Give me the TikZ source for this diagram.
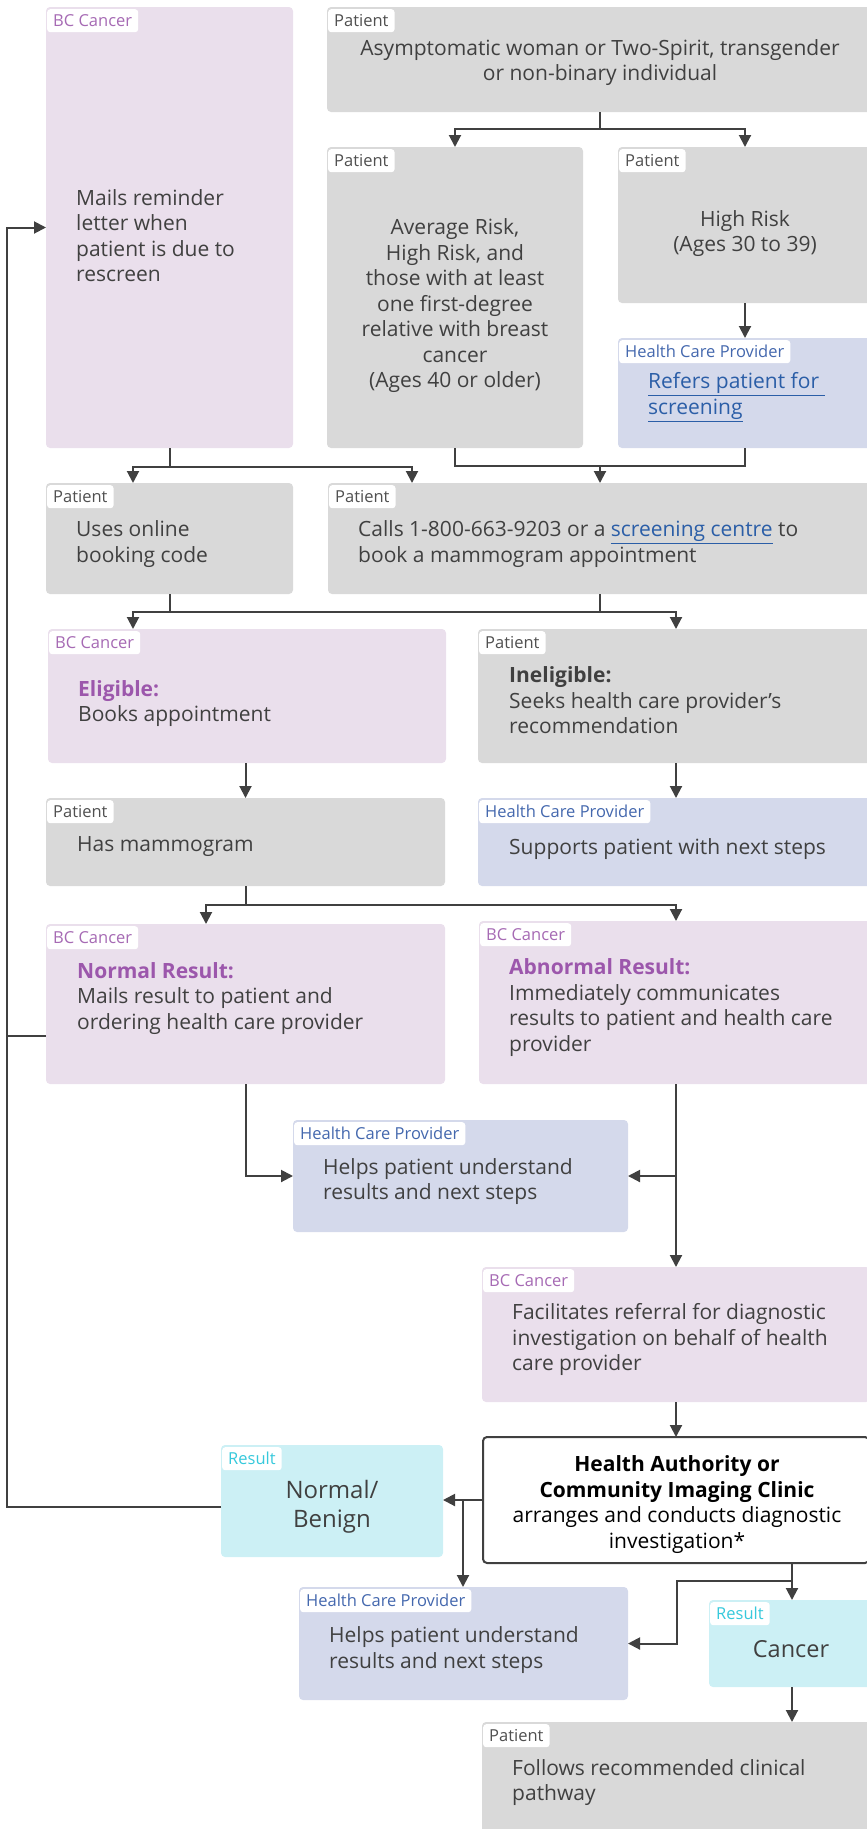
\documentclass[tikz,border=0pt]{standalone}
\usepackage{fontspec}
\setmainfont{Open Sans}
\usetikzlibrary{arrows.meta,calc,fit}
\definecolor{patgray}{HTML}{D9D9D9}
\definecolor{bcpink}{HTML}{EADFEC}
\definecolor{hcpblue}{HTML}{D4D9EB}
\definecolor{rescyan}{HTML}{CCF0F5}
\definecolor{txtc}{HTML}{404040}
\definecolor{tagpurp}{HTML}{A66AB4}
\definecolor{headpurp}{HTML}{9C57AC}
\definecolor{tagblue}{HTML}{4468AE}
\definecolor{tagcyan}{HTML}{36C9DC}
\definecolor{tagpat}{HTML}{505050}
\definecolor{linkc}{HTML}{2B5EA7}
\definecolor{linec}{HTML}{404040}
\begin{document}
\begin{tikzpicture}[x=1pt,y=-1pt,
  box/.style={inner sep=0pt,outer sep=0pt,rounded corners=4pt,draw=none},
  pat/.style={box,fill=patgray},
  bcc/.style={box,fill=bcpink},
  hcp/.style={box,fill=hcpblue},
  res/.style={box,fill=rescyan},
  tag/.style={anchor=north west,fill=white,rounded corners=3pt,inner xsep=6pt,inner ysep=0pt,
    minimum height=23pt,font=\fontsize{16.5}{16.5}\selectfont},
  tbc/.style={tag,text=tagpurp},
  tpat/.style={tag,text=tagpat},
  thcp/.style={tag,text=tagblue},
  tres/.style={tag,text=tagcyan},
  txt/.style={inner sep=0pt,text=txtc,font=\fontsize{21}{25.5}\selectfont,align=left,anchor=west},
  ctxt/.style={txt,align=center,anchor=center},
  line/.style={draw=linec,line width=2pt},
  arr/.style={line,-{Triangle[length=12pt,width=12pt]}}
  ]
\useasboundingbox (0,0) rectangle (867,1829);
\clip (0,0) rectangle (867,1829);

% boxes
\node[bcc,fit={(46,7)(293,448)}] (bc1) {};
\node[pat,fit={(327,7)(873,112)}] (ptop) {};
\node[pat,fit={(327,147)(583,448)}] (pavg) {};
\node[pat,fit={(618,147)(872,303)}] (phigh) {};
\node[hcp,fit={(618,338)(872,448)}] (hcpref) {};
\node[pat,fit={(46,483)(293,594)}] (ponline) {};
\node[pat,fit={(328,483)(872,594)}] (pcalls) {};
\node[bcc,fit={(48,629)(446,763)}] (belig) {};
\node[pat,fit={(478,629)(874,763)}] (pinel) {};
\node[pat,fit={(46,798)(445,886)}] (mammo) {};
\node[hcp,fit={(478,798)(874,886)}] (hcpsup) {};
\node[bcc,fit={(46,924)(445,1084)}] (bcnorm) {};
\node[bcc,fit={(479,921)(873,1084)}] (bcabn) {};
\node[hcp,fit={(293,1120)(628,1232)}] (hcp1) {};
\node[bcc,fit={(482,1267)(870,1402)}] (bcfac) {};
\node[box,fill=white,draw=linec,line width=2pt,fit={(483,1437)(869,1563)}] (ha) {};
\node[res,fit={(221,1445)(443,1557)}] (resnorm) {};
\node[hcp,fit={(299,1587)(628,1700)}] (hcp2) {};
\node[res,fit={(709,1600)(875,1687)}] (cancer) {};
\node[pat,fit={(482,1722)(880,1850)}] (follows) {};

% tags
\node[tbc] (tg1) at ($(bc1.north west)+(1,2)$) {BC Cancer};
\node[tpat] (tg2) at ($(ptop.north west)+(1,2)$) {Patient};
\node[tpat] (tg3) at ($(pavg.north west)+(1,2)$) {Patient};
\node[tpat] (tg4) at ($(phigh.north west)+(1,2)$) {Patient};
\node[thcp] (tg5) at ($(hcpref.north west)+(1,2)$) {Health Care Provider};
\node[tpat] (tg6) at ($(ponline.north west)+(1,2)$) {Patient};
\node[tpat] (tg7) at ($(pcalls.north west)+(1,2)$) {Patient};
\node[tbc] (tg8) at ($(belig.north west)+(1,2)$) {BC Cancer};
\node[tpat] (tg9) at ($(pinel.north west)+(1,2)$) {Patient};
\node[tpat] (tg10) at ($(mammo.north west)+(1,2)$) {Patient};
\node[thcp] (tg11) at ($(hcpsup.north west)+(1,2)$) {Health Care Provider};
\node[tbc] (tg12) at ($(bcnorm.north west)+(1,2)$) {BC Cancer};
\node[tbc] (tg13) at ($(bcabn.north west)+(1,2)$) {BC Cancer};
\node[thcp] (tg14) at ($(hcp1.north west)+(1,2)$) {Health Care Provider};
\node[tbc] (tg15) at ($(bcfac.north west)+(1,2)$) {BC Cancer};
\node[tres] (tg16) at ($(resnorm.north west)+(1,2)$) {Result};
\node[thcp] (tg17) at ($(hcp2.north west)+(1,2)$) {Health Care Provider};
\node[tres] (tg18) at ($(cancer.north west)+(1,2)$) {Result};
\node[tpat] (tg19) at ($(follows.north west)+(1,2)$) {Patient};

% texts
\node[txt] (bc1t) at (76,235.5) {Mails reminder\\letter when\\patient is due to\\rescreen};
\node[ctxt] (ptopt) at (600,62.5) {Asymptomatic woman or Two-Spirit, transgender\\or non-binary individual};
\node[ctxt] (pavgt) at (455,306) {Average Risk,\\High Risk, and\\those with at least\\one first-degree\\relative with breast\\cancer\\(Ages 40 or older)};
\node[ctxt] (phight) at (745,233.5) {High Risk\\(Ages 30 to 39)};
\node[txt,text=linkc] (hcpreft) at (648,397) {\underline{Refers patient for\ }\\\underline{screening}};
\node[txt] (ponlinet) at (76,544) {Uses online\\booking code};
\node[txt] (pcallst) at (358,544) {Calls 1-800-663-9203 or a \textcolor{linkc}{\underline{screening centre}} to\\book a mammogram appointment};
\node[txt] (beligt) at (78,703.5) {\textcolor{headpurp}{\textbf{Eligible:}}\\Books appointment};
\node[txt] (pinelt) at (509,700.5) {\textbf{Ineligible:}\\Seeks health care provider’s\\recommendation};
\node[txt] (mammot) at (77,847) {Has mammogram};
\node[txt] (hcpsupt) at (509,849) {Supports patient with next steps};
\node[txt] (bcnormt) at (77,998.5) {\textcolor{headpurp}{\textbf{Normal Result:}}\\Mails result to patient and\\ordering health care provider};
\node[txt] (bcabnt) at (509,1007.5) {\textcolor{headpurp}{\textbf{Abnormal Result:}}\\Immediately communicates\\results to patient and health care\\provider};
\node[txt] (hcp1t) at (323,1181.5) {Helps patient understand\\results and next steps};
\node[txt] (bcfact) at (512,1339.5) {Facilitates referral for diagnostic\\investigation on behalf of health\\care provider};
\node[ctxt,text=black] (hat) at (677,1504.5) {\textbf{Health Authority or}\\\textbf{Community Imaging Clinic}\\arranges and conducts diagnostic\\investigation*};
\node[ctxt,font=\fontsize{24}{29.5}\selectfont] (resnormt) at (332,1506.5) {Normal/\\Benign};
\node[ctxt,font=\fontsize{23.5}{29}\selectfont] (cancert) at (791,1649) {Cancer};
\node[txt] (hcp2t) at (329,1650) {Helps patient understand\\results and next steps};
\node[txt] (followst) at (512,1782.5) {Follows recommended clinical\\pathway};

% connectors
\draw[line] (ptop.south) -- ++(0,17) coordinate (j1);
\draw[arr] (j1) -| (pavg.north);
\draw[arr] (j1) -| (phigh.north);
\draw[arr] (phigh.south) -- (hcpref.north);

\draw[line] (bc1.south) -- ++(0,19) coordinate (j2);
\coordinate (a1) at ($(ponline.north west)+(87,0)$);
\coordinate (a2) at ($(pcalls.north west)+(84,0)$);
\draw[arr] (j2) -| (a1);
\draw[arr] (j2) -| (a2);

\coordinate (j3) at ($(pavg.south)+(0,18)$);
\draw[line] (pavg.south) -- (j3) -| (hcpref.south);
\draw[arr] (j3 -| pcalls.north) -- (pcalls.north);

\draw[line] (ponline.south) -- ++(0,18) coordinate (j4);
\draw[line] (pcalls.south) -- (pcalls.south |- j4);
\coordinate (a3) at ($(belig.north west)+(85,0)$);
\draw[arr] (j4) -| (a3);
\draw[arr] (j4) -| (pinel.north);

\draw[arr] (mammo.north |- belig.south) -- (mammo.north);
\draw[arr] (pinel.south) -- (hcpsup.north);

\draw[line] (mammo.south) -- ++(0,19) coordinate (j5);
\coordinate (a4) at ($(bcnorm.north west)+(160,0)$);
\draw[arr] (j5) -| (a4);
\draw[arr] (j5) -| (bcabn.north);

\draw[arr] (bcnorm.south) |- (hcp1.west);
\draw[arr] (bcabn.south) -- (bcabn.south |- bcfac.north);
\draw[arr] (bcabn.south |- hcp1.east) -- (hcp1.east);
\draw[arr] (bcfac.south) -- (bcfac.south |- ha.north);

\draw[arr] (ha.west) -- (ha.west -| resnorm.east);
\coordinate (j7) at ($(ha.west)+(-20,0)$);
\draw[arr] (j7) -- (j7 |- hcp2.north);

\coordinate (loopx) at (7,0);
\coordinate (r1) at ($(resnorm.west)+(0,6)$);
\draw[arr] (r1) -| (loopx |- bc1.west) -- (bc1.west);
\coordinate (n1) at ($(bcnorm.south west)+(0,-48)$);
\draw[line] (n1) -- (n1 -| loopx);

\coordinate (h1) at ($(ha.south west)+(309,0)$);
\draw[line] (h1) -- ++(0,18) coordinate (j6);
\draw[arr] (j6) -- (j6 |- cancer.north);
\draw[arr] (j6) -- ++(-115,0) |- (hcp2.east);
\draw[arr] (j6 |- cancer.south) -- (j6 |- follows.north);
\end{tikzpicture}
\end{document}
